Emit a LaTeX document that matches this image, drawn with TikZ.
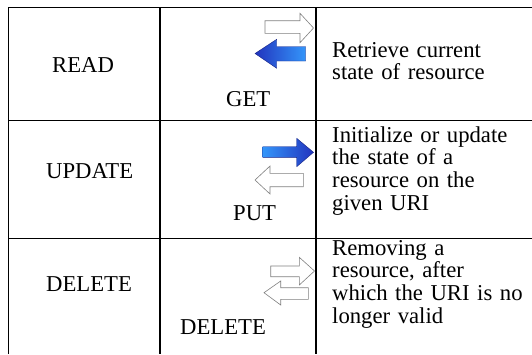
\documentclass[tikz,border=0pt]{standalone}
\usepackage{fontspec}
\setmainfont{Liberation Serif}
\definecolor{arrowdark}{RGB}{34,52,190}
\definecolor{arrowlight}{RGB}{52,150,250}
\begin{document}
\begin{tikzpicture}[x=1pt,y=-1pt,
  rule/.style={line width=1.5pt,black},
  cell/.style={inner sep=0pt,anchor=base west,font=\fontsize{22.7}{22.7}\selectfont},
  desc/.style={cell,text width=200pt,align=left},
  hollow/.style={draw=black!50,fill=white,line width=0.6pt,line join=miter},
  bluer/.style={draw=arrowdark!70!black,line width=0.4pt,left color=arrowlight,right color=arrowdark},
  bluel/.style={draw=arrowdark!70!black,line width=0.4pt,left color=arrowdark,right color=arrowlight}]
\useasboundingbox (0,0) rectangle (532,354);

% grid lines
\draw[rule] (8.7,354) -- (8.7,7.5) -- (532,7.5);
\draw[rule] (160,7.5) -- (160,354);
\draw[rule] (316,7.5) -- (316,354);
\draw[rule] (8.7,120.5) -- (532,120.5);
\draw[rule] (8.7,238.5) -- (532,238.5);

% operation names
\node[cell] (read)   at (52,72)  {READ};
\node[cell] (update) at (46,178) {UPDATE};
\node[cell] (delete) at (46,291) {DELETE};

% http verbs
\node[cell] (get)  at (226,106) {GET};
\node[cell] (put)  at (233,220) {PUT};
\node[cell] (del)  at (180,334) {DELETE};

% descriptions
\node[desc] (d1) at (332,57)  {Retrieve current\\state of resource};
\node[desc] (d2) at (332,142) {Initialize or update\\the state of a\\resource on the\\given URI};
\node[desc] (d3) at (332,255) {Removing a\\resource, after\\which the URI is no\\longer valid};

% GET: request out, data back
\draw[hollow] (265,20.7) -- (300,20.7) -- (300,13.3) -- (313.5,28) -- (300,42.7) -- (300,33.3) -- (265,33.3) -- cycle;
\draw[bluel] (305.7,46.7) -- (276.7,46.7) -- (276.7,39.3) -- (255,53.5) -- (276.7,68.3) -- (276.7,61) -- (305.7,61) -- cycle;

% PUT: data out, acknowledgement back
\draw[bluer] (262.7,146.7) -- (296.7,146.7) -- (296.7,138.3) -- (313.5,152.3) -- (296.7,166.7) -- (296.7,157.3) -- (262.7,157.3) -- cycle;
\draw[hollow] (303.3,173.3) -- (270,173.3) -- (270,166) -- (255,180) -- (270,194) -- (270,186.7) -- (303.3,186.7) -- cycle;

% DELETE: request out, acknowledgement back
\draw[hollow] (270.7,266) -- (299.3,266) -- (299.3,257.3) -- (314.5,271) -- (299.3,285) -- (299.3,276.7) -- (270.7,276.7) -- cycle;
\draw[hollow] (308.3,287.7) -- (280.7,287.7) -- (280.7,281) -- (264,292.7) -- (280.7,305) -- (280.7,299.3) -- (308.3,299.3) -- cycle;
\end{tikzpicture}
\end{document}
